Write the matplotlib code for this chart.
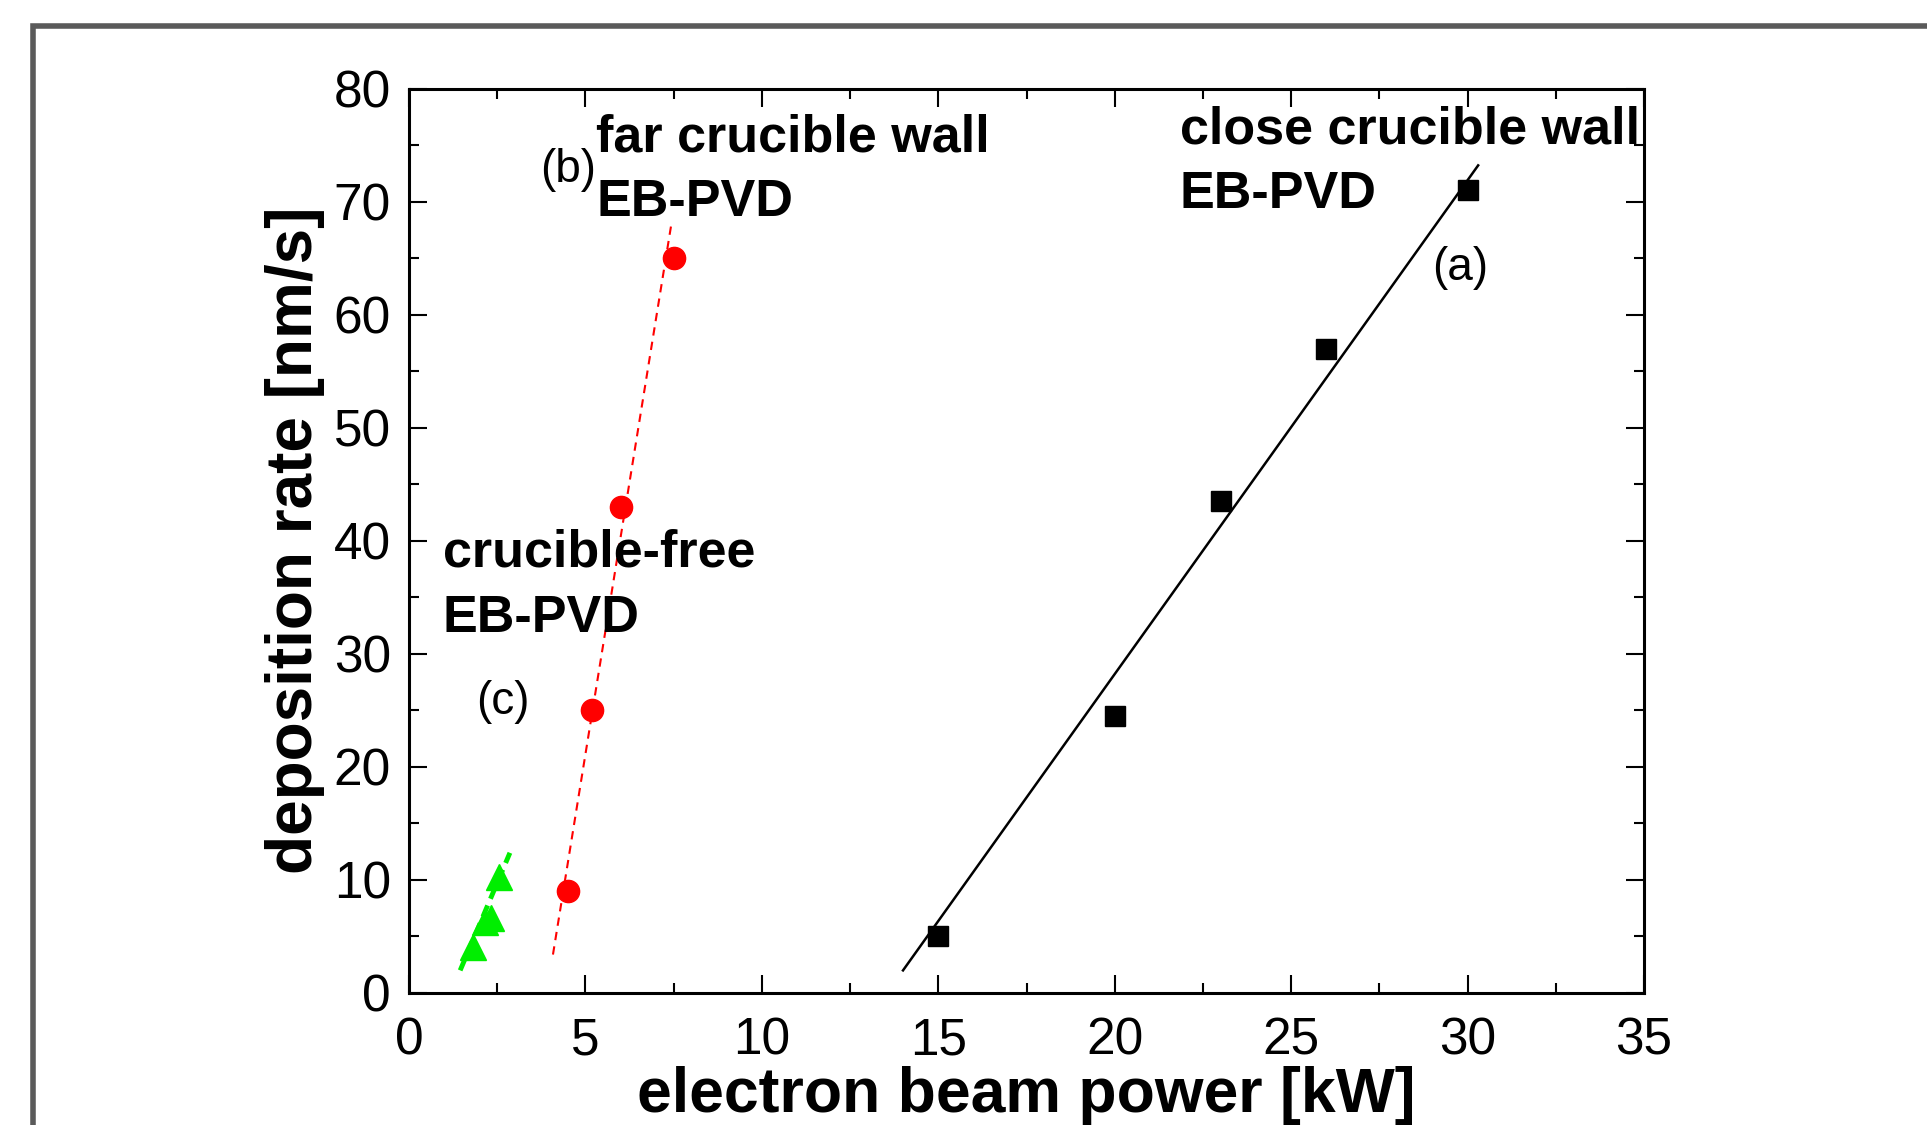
import matplotlib.pyplot as plt
from matplotlib.patches import Rectangle

plt.rcParams['font.family'] = ['Liberation Sans', 'DejaVu Sans']

# (a) close crucible wall EB-PVD
power_a = [15, 20, 23, 26, 30]
rate_a = [5, 24.5, 43.5, 57, 71]
fit_a_x = [14, 30.3]
fit_a_y = [2, 73.2]

# (b) far crucible wall EB-PVD
power_b = [4.5, 5.2, 6.0, 7.5]
rate_b = [9, 25, 43, 65]
fit_b_x = [4.08, 7.45]
fit_b_y = [3.4, 68.3]

# (c) crucible-free EB-PVD
power_c = [1.8, 2.15, 2.32, 2.56]
rate_c = [4.1, 6.3, 6.6, 10.3]
fit_c_x = [1.45, 2.86]
fit_c_y = [2.0, 12.4]

W, H = 1927, 1125
fig = plt.figure(figsize=(W / 100, H / 100), dpi=100)
fig.patch.set_facecolor('white')

# grey frame around the figure
fig.add_artist(Rectangle((33 / W, -0.2), 2, 1 - 26 / H + 0.2, fill=False,
                         edgecolor='#5a5a5a', lw=4, transform=fig.transFigure))

ax = fig.add_axes([409 / W, 1 - 993 / H, 1235 / W, 904.5 / H])

ax.plot(fit_a_x, fit_a_y, color='black', lw=1.8)
ax.plot(power_a, rate_a, 's', color='black', ms=14)

ax.plot(fit_b_x, fit_b_y, '--', color='red', lw=1.5, dashes=(4, 3))
ax.plot(power_b, rate_b, 'o', color='red', ms=16)

ax.plot(fit_c_x, fit_c_y, '--', color='#00ee00', lw=3.5, dashes=(2.5, 1.5))
ax.plot(power_c, rate_c, '^', color='#00ee00', ms=19)

ax.set_xlim(0, 35)
ax.set_ylim(0, 80)
ax.set_xticks(range(0, 36, 5))
ax.set_yticks(range(0, 81, 10))
ax.set_xticks([x + 2.5 for x in range(0, 35, 5)], minor=True)
ax.set_yticks([y + 5 for y in range(0, 80, 10)], minor=True)

ax.tick_params(which='both', direction='in', top=True, right=True, width=1.5)
ax.tick_params(which='major', length=13, labelsize=37)
ax.tick_params(which='minor', length=7)
ax.tick_params(axis='x', pad=17)
ax.tick_params(axis='y', pad=13)
for s in ax.spines.values():
    s.set_linewidth(2.2)

ax.set_xlabel('electron beam power [kW]', fontsize=45, fontweight='bold', labelpad=0)
ax.set_ylabel('deposition rate [nm/s]', fontsize=46, fontweight='bold', labelpad=6)

bold = dict(fontsize=37.5, fontweight='bold', va='center', ha='left')
ax.text(5.3, 75.6, 'far crucible wall', **bold)
ax.text(5.3, 69.9, 'EB-PVD', **bold)
ax.text(21.85, 76.3, 'close crucible wall', **bold)
ax.text(21.85, 70.6, 'EB-PVD', **bold)
ax.text(0.95, 38.9, 'crucible-free', **bold)
ax.text(0.95, 33.1, 'EB-PVD', **bold)

ax.text(3.73, 72.8, '(b)', fontsize=33, va='center', ha='left')
ax.text(29.78, 64.1, '(a)', fontsize=33, va='center', ha='center')
ax.text(2.66, 25.7, '(c)', fontsize=33, va='center', ha='center')

fig.savefig('out.png', dpi=100)
